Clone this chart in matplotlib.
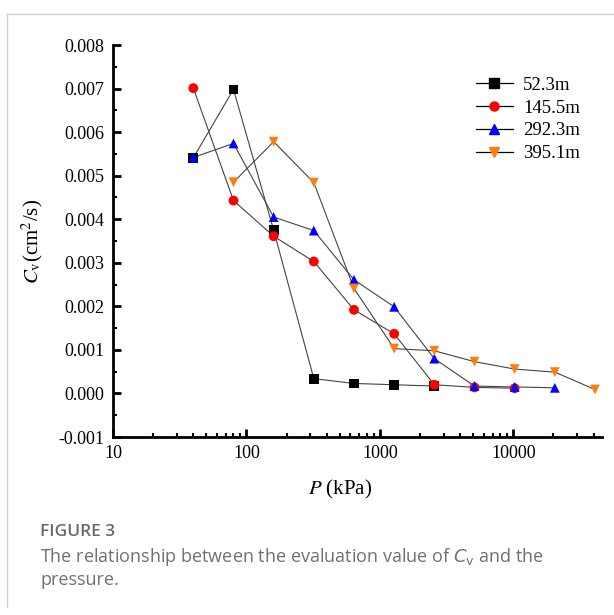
import matplotlib
matplotlib.use('Agg')
import matplotlib.pyplot as plt
from matplotlib.lines import Line2D
from matplotlib.ticker import MultipleLocator, LogLocator, NullFormatter, FixedLocator

plt.rcParams['font.family'] = ['Liberation Serif']
plt.rcParams['mathtext.fontset'] = 'stix'

# data
p_52 = [40, 80, 160, 320, 640, 1280, 2560]
cv_52 = [0.00541, 0.00698, 0.00375, 0.00034, 0.00023, 0.00020, 0.00017]

p_145 = [40, 80, 160, 320, 640, 1280, 2560, 5120, 10240]
cv_145 = [0.00701, 0.00443, 0.00361, 0.00303, 0.00192, 0.00137, 0.00020, 0.00014, 0.00012]

p_292 = [40, 80, 160, 320, 640, 1280, 2560, 5120, 10240, 20480]
cv_292 = [0.00542, 0.00574, 0.00405, 0.00374, 0.00261, 0.00199, 0.00080, 0.00017, 0.00015, 0.00013]

p_395 = [80, 160, 320, 640, 1280, 2560, 5120, 10240, 20480, 40960]
cv_395 = [0.00485, 0.00578, 0.00484, 0.00241, 0.00103, 0.00098, 0.00073, 0.00056, 0.00049, 0.00009]

series = [
    ('52.3m', p_52, cv_52, 's', 'black'),
    ('145.5m', p_145, cv_145, 'o', 'red'),
    ('292.3m', p_292, cv_292, '^', 'blue'),
    ('395.1m', p_395, cv_395, 'v', '#ff7f0e'),
]

fig = plt.figure(figsize=(6.14, 6.15), dpi=100)
ax = fig.add_axes([0.184, 0.2894, 0.796, 0.6374])

for name, x, y, m, c in series:
    ax.plot(x, y, color='#444444', lw=0.8, zorder=1)
    ax.scatter(x, y, marker=m, s=50, color=c, zorder=2, edgecolors='none')

handles = [Line2D([], [], color='black', lw=0.9, marker=m, markersize=6.5,
                  markerfacecolor=c, markeredgecolor=c) for _, _, _, m, c in series]
ax.legend(handles, [s[0] for s in series], loc='upper left', frameon=False,
          fontsize=13.5, handlelength=2.0, handletextpad=0.53, labelspacing=0.3,
          bbox_to_anchor=(0.742, 0.919), borderaxespad=0, borderpad=0)

ax.set_xscale('log')
ax.set_xlim(10, 46000)
ax.set_ylim(-0.001, 0.008)
ax.yaxis.set_minor_locator(MultipleLocator(0.0005))
ax.set_yticks([-0.001, 0, 0.001, 0.002, 0.003, 0.004, 0.005, 0.006, 0.007, 0.008])
ax.set_yticklabels(['-0.001', '0.000', '0.001', '0.002', '0.003', '0.004',
                    '0.005', '0.006', '0.007', '0.008'])
ax.xaxis.set_major_locator(FixedLocator([10, 100, 1000, 10000]))
ax.set_xticklabels(['10', '100', '1000', '10000'])
ax.xaxis.set_minor_locator(LogLocator(base=10, subs=range(2, 10), numticks=20))
ax.xaxis.set_minor_formatter(NullFormatter())

for s in ['top', 'right']:
    ax.spines[s].set_visible(False)
for s in ['left', 'bottom']:
    ax.spines[s].set_linewidth(2)
ax.tick_params(which='major', direction='in', length=6, width=2, labelsize=13, pad=6)
ax.tick_params(which='minor', direction='in', length=3, width=1.5)

ax.set_xlabel('$P$ (kPa)', fontsize=15)
ax.xaxis.set_label_coords(0.464, -0.105)
ax.set_ylabel('$C_\\mathrm{v}$(cm$^2$/s)', fontsize=15, labelpad=10)

# card border lines
fig.add_artist(Line2D([7 / 614, 7 / 614], [1 - 607 / 615, 1 - 14 / 615], color='#d0d0d0', lw=1))
fig.add_artist(Line2D([7 / 614, 1], [1 - 14 / 615, 1 - 14 / 615], color='#d0d0d0', lw=1))

fig.text(40 / 614, 1 - 532 / 615, 'FIGURE 3', fontsize=12.5, color='#6a6a6a',
         family='Open Sans', fontweight='semibold', va='center')
fig.text(40 / 614, 1 - 557 / 615,
         'The relationship between the evaluation value of $C_\\mathrm{v}$ and the',
         fontsize=13, color='#707070', family='Open Sans', va='center',
         math_fontfamily='dejavusans')
fig.text(40 / 614, 1 - 580 / 615, 'pressure.', fontsize=13, color='#707070',
         family='Open Sans', va='center')

fig.savefig('out.png', dpi=100)
